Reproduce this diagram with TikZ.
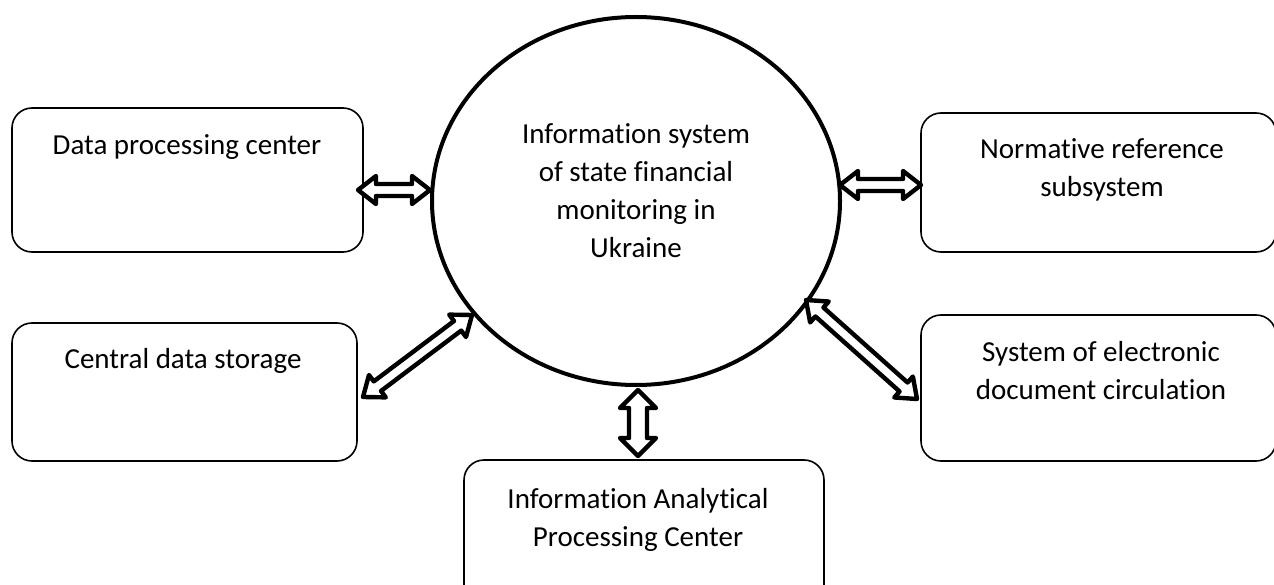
\documentclass[tikz,border=0pt]{standalone}
\usepackage{fontspec}
\setmainfont{Carlito}[Ligatures=NoCommon]
\usetikzlibrary{calc,shapes.geometric}
\newcommand\blockarrow[5]{%
  \draw[blockarr] (#1) -- ($(#1)!#3!(#2)!#4!90:(#2)$) -- ($(#1)!#3!(#2)!#5!90:(#2)$)
   -- ($(#2)!#3!(#1)!#5!-90:(#1)$) -- ($(#2)!#3!(#1)!#4!-90:(#1)$) -- (#2)
   -- ($(#2)!#3!(#1)!#4!90:(#1)$) -- ($(#2)!#3!(#1)!#5!90:(#1)$)
   -- ($(#1)!#3!(#2)!#5!-90:(#2)$) -- ($(#1)!#3!(#2)!#4!-90:(#2)$) -- cycle;}
\tikzset{
  box/.style={draw, line width=1.6pt, rounded corners=20pt, inner sep=0pt},
  sysell/.style={draw, ellipse, line width=4pt, inner sep=0pt, minimum width=408pt, minimum height=368pt},
  lbl/.style={inner sep=0pt, align=center, font=\fontsize{29}{38}\selectfont, anchor=base},
  blockarr/.style={draw, fill=white, line width=4.4pt, line join=round}
}
\begin{document}
\begin{tikzpicture}[x=1pt,y=-1pt]
\useasboundingbox (0,0) rectangle (1274,585);
\clip (0,0) rectangle (1274,585);
% boxes
\node[box, minimum width=351pt, minimum height=144pt] (dpc) at (187.5,180) {};
\node[box, minimum width=345pt, minimum height=138pt] (cds) at (184.5,392) {};
\node[box, minimum width=355pt, minimum height=139pt] (nrs) at (1098.5,182.5) {};
\node[box, minimum width=355pt, minimum height=146pt] (sedc) at (1098.5,388) {};
\node[box, minimum width=360pt, minimum height=150pt] (iapc) at (644,535) {};
\node[sysell] (sys) at (636,201) {};
% texts (anchor = baseline of last line)
\node[lbl] (tdpc) at (187,155) {Data processing center};
\node[lbl] (tcds) at (183,368) {Central data storage};
\node[lbl] (tsys) at (636,258) {Information system\\of state financial\\monitoring in\\Ukraine};
\node[lbl] (tnrs) at (1102,197) {Normative reference\\subsystem};
\node[lbl] (tsedc) at (1101,399) {System of electronic\\document circulation};
\node[lbl] (tiapc) at (638,546) {Information Analytical\\Processing Center};
% arrow end points
\coordinate (a1) at (358,190);
\coordinate (a2) at (430,190);
\coordinate (b1) at (840,185);
\coordinate (b2) at (921,185);
\coordinate (c1) at (638,390);
\coordinate (c2) at (638,456);
\coordinate (d1) at (472,315);
\coordinate (d2) at (363,397);
\coordinate (e1) at (806,300);
\coordinate (e2) at (917,399);
\blockarrow{a1}{a2}{18pt}{14pt}{6pt}
\blockarrow{b1}{b2}{18pt}{14pt}{6pt}
\blockarrow{c1}{c2}{18pt}{18pt}{9pt}
\blockarrow{d1}{d2}{18pt}{14pt}{6pt}
\blockarrow{e1}{e2}{18pt}{14pt}{6pt}
\end{tikzpicture}
\end{document}
